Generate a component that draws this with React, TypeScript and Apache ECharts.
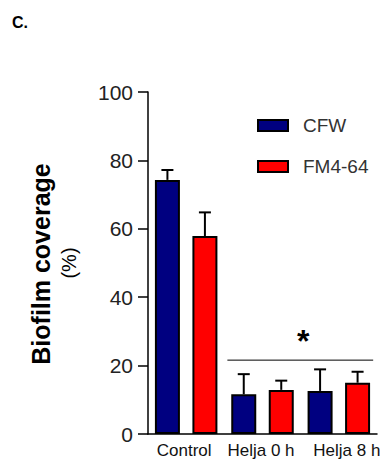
import React, { useEffect, useRef } from "react";
import * as echarts from "echarts";

const categories = ["Control", "Helja 0 h", "Helja 8 h"];
const cfwValues = [74.3, 11.6, 12.6];
const cfwErrors = [2.9, 5.9, 6.3];
const fmValues = [57.9, 12.9, 15.0];
const fmErrors = [6.9, 2.7, 3.2];
const seriesNames = ["CFW", "FM4-64"];
const sigLevel = 21.6;
const sigFrom = 1;
const sigTo = 2;
const yTicks = { min: 0, max: 100, interval: 20 };

const FONT = "'Liberation Sans', Arial, Helvetica, sans-serif";
const NAVY = "#000080";
const RED = "#ff0000";
const BAR_W = 25;
const BAR_GAP = 0.5;

export default function App() {
  const ref = useRef<HTMLDivElement>(null);
  useEffect(() => {
    if (!ref.current) return;
    const chart = echarts.init(ref.current, null, { renderer: "svg" });
    const offset = (BAR_W + BAR_W * BAR_GAP) / 2;

    const errItem = (sign: number) => (params: any, api: any) => {
      const ci = api.value(0);
      const v = api.value(1);
      const e = api.value(2);
      const base = api.coord([ci, v]);
      const top = api.coord([ci, v + e]);
      const x = base[0] + sign * offset;
      return {
        type: "group",
        children: [
          { type: "line", shape: { x1: x, y1: base[1], x2: x, y2: top[1] }, style: { stroke: "#000", lineWidth: 2 } },
          { type: "line", shape: { x1: x - 6, y1: top[1], x2: x + 6, y2: top[1] }, style: { stroke: "#000", lineWidth: 2 } },
        ],
      };
    };

    chart.setOption({
      animation: false,
      grid: { left: 148, right: 7, top: 92, bottom: 27, containLabel: false },
      legend: {
        data: seriesNames,
        orient: "vertical",
        left: 252,
        top: 111,
        itemWidth: 30,
        itemHeight: 11,
        itemGap: 22,
        icon: "rect",
        itemStyle: { borderColor: "#000", borderWidth: 2 },
        textStyle: { fontFamily: FONT, fontSize: 19, color: "#333", padding: [0, 0, 0, 10] },
      },
      xAxis: {
        type: "category",
        data: [
          { value: categories[0], textStyle: { padding: [0, 4, 0, 0] } },
          { value: categories[1], textStyle: { padding: [0, 3, 0, 0] } },
          { value: categories[2], textStyle: { padding: [0, 0, 0, 16] } },
        ],
        axisLine: { lineStyle: { color: "#000", width: 1.5 } },
        axisTick: { show: false },
        axisLabel: { interval: 0, hideOverlap: false, fontFamily: FONT, fontSize: 17, color: "#111", margin: 8 },
      },
      yAxis: {
        type: "value",
        min: yTicks.min,
        max: yTicks.max,
        interval: yTicks.interval,
        axisLine: { show: true, lineStyle: { color: "#000", width: 1.5 } },
        axisTick: { show: true, length: 10, lineStyle: { color: "#000", width: 1.5 } },
        splitLine: { show: false },
        axisLabel: { fontFamily: FONT, fontSize: 21, color: "#222", margin: 15 },
      },
      series: [
        {
          name: seriesNames[0],
          type: "bar",
          data: cfwValues,
          barWidth: BAR_W,
          barGap: BAR_GAP * 100 + "%",
          itemStyle: { color: NAVY, borderColor: "#000", borderWidth: 2 },
        },
        {
          name: seriesNames[1],
          type: "bar",
          data: fmValues,
          barWidth: BAR_W,
          barGap: BAR_GAP * 100 + "%",
          itemStyle: { color: RED, borderColor: "#000", borderWidth: 2 },
        },
        {
          type: "custom",
          renderItem: errItem(-1),
          data: cfwValues.map((v, i) => [i, v, cfwErrors[i]]),
          z: 3,
        },
        {
          type: "custom",
          renderItem: errItem(1),
          data: fmValues.map((v, i) => [i, v, fmErrors[i]]),
          z: 3,
        },
        {
          type: "custom",
          data: [[sigFrom, sigLevel, sigTo]],
          z: 3,
          renderItem: (params: any, api: any) => {
            const a = api.value(0);
            const v = api.value(1);
            const b = api.value(2);
            const p1 = api.coord([a, v]);
            const p2 = api.coord([b, v]);
            const catW = api.size([1, 0])[0];
            const x1 = p1[0] - catW * 0.46;
            const x2 = p2[0] + catW * 0.45;
            return {
              type: "group",
              children: [
                { type: "line", shape: { x1, y1: p1[1], x2, y2: p1[1] }, style: { stroke: "#000", lineWidth: 1 } },
                {
                  type: "text",
                  x: (x1 + x2) / 2 + 3,
                  y: p1[1] - 3,
                  style: { text: "*", font: `bold 32px ${FONT}`, fill: "#000", align: "center", verticalAlign: "bottom" },
                },
              ],
            };
          },
        },
      ],
      graphic: [
        { type: "text", left: 12, top: 14, style: { text: "C.", font: `bold 16px ${FONT}`, fill: "#000" } },
        {
          type: "text",
          x: 41,
          y: 264,
          rotation: Math.PI / 2,
          style: { text: "Biofilm coverage", font: `bold 25px ${FONT}`, fill: "#000", align: "center", verticalAlign: "middle" },
        },
        {
          type: "text",
          x: 69,
          y: 263,
          rotation: Math.PI / 2,
          style: { text: "(%)", font: `20px ${FONT}`, fill: "#000", align: "center", verticalAlign: "middle" },
        },
      ],
    });
    return () => chart.dispose();
  }, []);
  return <div ref={ref} style={{ width: 384, height: 461, position: "absolute", left: 0, top: 0 }} />;
}
